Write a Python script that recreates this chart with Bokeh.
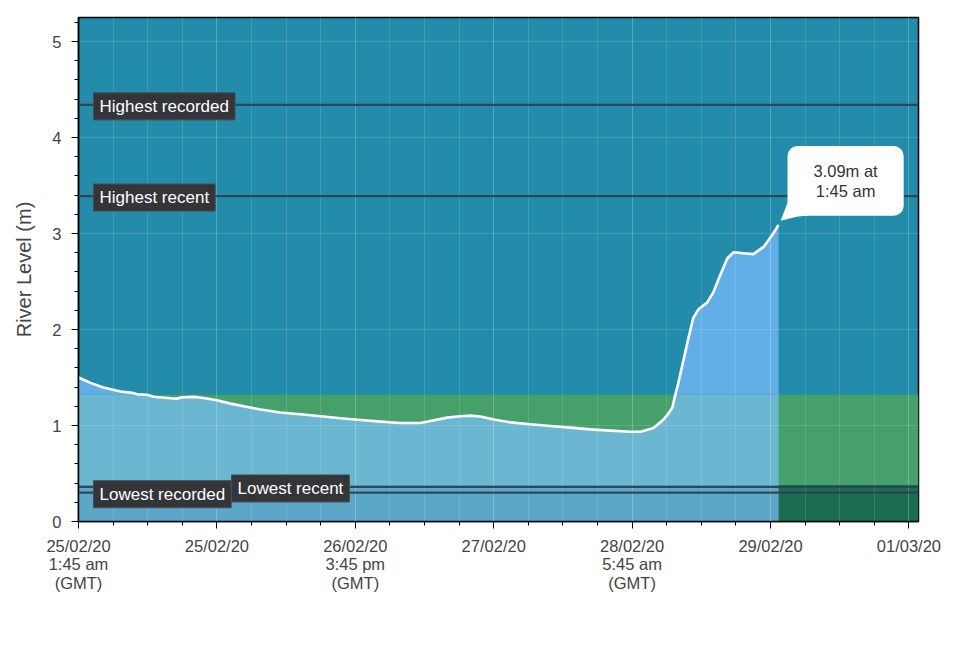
from bokeh.plotting import figure
from bokeh.models import (Range1d, SingleIntervalTicker, BoxAnnotation, Span, Label)
from bokeh.embed import file_html
from bokeh.resources import INLINE
import numpy as np

# River level readings: hours since the first reading, level in metres
hours = [0, 2.1, 4.3, 7.3, 9.3, 10.2, 11.9, 13.0, 16.0, 17.1, 18.0, 20.0, 21.7,
         24.0, 26.4, 29.3, 31.6, 33.3, 35.0, 38.5, 42.0, 45.4, 48.9, 52.4, 55.8,
         59.3, 61.0, 63.9, 66.2, 68.0, 69.7, 72.0, 74.9, 78.4, 81.8, 85.3, 88.8,
         92.3, 95.7, 97.5, 99.7, 101.4, 102.3, 103.0, 103.4, 104.0, 104.9, 105.8,
         106.6, 107.5, 109.0, 110.1, 111.3, 112.5, 113.6, 115.3, 117.0, 118.8,
         120.3, 121.4]
level = [1.50, 1.444, 1.395, 1.354, 1.34, 1.326, 1.32, 1.30, 1.284, 1.28, 1.294,
         1.298, 1.287, 1.263, 1.228, 1.193, 1.166, 1.151, 1.135, 1.117, 1.096,
         1.075, 1.058, 1.04, 1.026, 1.026, 1.047, 1.082, 1.096, 1.103, 1.093,
         1.062, 1.033, 1.013, 0.995, 0.978, 0.96, 0.947, 0.935, 0.935, 0.975,
         1.06, 1.124, 1.19, 1.30, 1.44, 1.68, 1.92, 2.12, 2.21, 2.28, 2.39, 2.57,
         2.74, 2.805, 2.795, 2.785, 2.86, 2.985, 3.09]
latest_time = "1:45 am"

# Typical range and reference levels (m)
typical_low = 0.38
typical_high = 1.32
highest_recorded = 4.34
highest_recent = 3.39
lowest_recorded = 0.30
lowest_recent = 0.36

# Axis ticks
tick_hours = [0, 24, 48, 72, 96, 120, 144]
tick_labels = ["25/02/20\n1:45 am\n(GMT)", "25/02/20", "26/02/20\n3:45 pm\n(GMT)",
               "27/02/20", "28/02/20\n5:45 am\n(GMT)", "29/02/20", "01/03/20"]

X_END = 145.66
Y_END = 5.25
FRAME_W, FRAME_H = 840, 504

FONT = "Liberation Sans"
TEAL = "#228CAA"
GREEN = "#46A069"
DARK_GREEN = "#1B6D52"
FILL_HIGH = "#62AFE7"
FILL_MID = "#6BB6D1"
FILL_LOW = "#5CA6C8"
LINE_DARK = "#2B4550"
BOX_DARK = "#333538"

p = figure(frame_width=FRAME_W, frame_height=FRAME_H,
           x_range=Range1d(0, X_END), y_range=Range1d(0, Y_END),
           output_backend="svg", toolbar_location=None,
           min_border_left=78, min_border_right=42,
           min_border_top=17, min_border_bottom=139)
p.background_fill_color = TEAL
p.border_fill_color = "white"
p.outline_line_color = "black"
p.outline_line_width = 1.5

# Bands: typical range and below it
p.add_layout(BoxAnnotation(bottom=typical_low, top=typical_high, fill_color=GREEN,
                           fill_alpha=1, line_color=None, level="underlay"))
p.add_layout(BoxAnnotation(bottom=0, top=typical_low, fill_color=DARK_GREEN,
                           fill_alpha=1, line_color=None, level="underlay"))


def with_crossings(xs, ys, h):
    """Insert the points where the series crosses the level h."""
    ox, oy = [xs[0]], [ys[0]]
    for i in range(1, len(xs)):
        y0, y1 = ys[i - 1], ys[i]
        if (y0 - h) * (y1 - h) < 0:
            t = (h - y0) / (y1 - y0)
            ox.append(xs[i - 1] + t * (xs[i] - xs[i - 1]))
            oy.append(h)
        ox.append(xs[i])
        oy.append(ys[i])
    return ox, oy


fx, fy = with_crossings(hours, level, typical_high)
fx, fy = with_crossings(fx, fy, typical_low)
fx = np.array(fx)
fy = np.array(fy)

# Area under the river level, shaded per band
p.varea(x=fx, y1=typical_high, y2=np.maximum(fy, typical_high), fill_color=FILL_HIGH)
p.varea(x=fx, y1=typical_low, y2=np.clip(fy, typical_low, typical_high), fill_color=FILL_MID)
p.varea(x=fx, y1=0, y2=np.minimum(fy, typical_low), fill_color=FILL_LOW)

p.line(hours, level, line_color="white", line_width=2.6, line_join="round")

# Reference level lines
for lv in [highest_recorded, highest_recent, lowest_recorded, lowest_recent]:
    p.add_layout(Span(location=lv, dimension="width", line_color=LINE_DARK,
                      line_width=2.2, line_alpha=0.95))

# Reference level labels
for text, lv, off in [("Highest recorded", highest_recorded, 15),
                      ("Highest recent", highest_recent, 15),
                      ("Lowest recorded", lowest_recorded, 15),
                      ("Lowest recent", lowest_recent, 153)]:
    p.add_layout(Label(x=hours[0], y=lv, x_offset=off, y_offset=-1.5, text=text,
                       text_align="left", text_baseline="middle",
                       text_font=FONT, text_font_size="17px", text_color="white",
                       background_fill_color=BOX_DARK, background_fill_alpha=1,
                       border_line_color="#4a4a4a", border_line_width=1,
                       padding=(6, 4)))

# Callout for the latest reading
kx = X_END / FRAME_W
ky = Y_END / FRAME_H
lx, ly = hours[-1], level[-1]
tail = [(2, 4), (12, 30), (34, 26), (34, 10), (18, 8)]
tail_r = p.patch([lx + dx * kx for dx, dy in tail], [ly + dy * ky for dx, dy in tail],
                 fill_color="white", line_color=None)
tail_r.level = "overlay"
p.add_layout(Label(x=lx, y=ly, x_offset=67, y_offset=44,
                   text=f"{ly:.2f}m at\n{latest_time}",
                   text_align="center", text_baseline="middle",
                   text_font=FONT, text_font_size="16.5px", text_color="#333333",
                   text_line_height=1.1,
                   background_fill_color="white", background_fill_alpha=1,
                   border_line_color=None, border_radius=10, padding=(26, 16)))

# Axes
p.xaxis.ticker = SingleIntervalTicker(interval=24, num_minor_ticks=4)
p.yaxis.ticker = SingleIntervalTicker(interval=1, num_minor_ticks=5)
p.xaxis.major_label_overrides = dict(zip(tick_hours, tick_labels))
for ax in (p.xaxis[0], p.yaxis[0]):
    ax.axis_line_color = "black"
    ax.axis_line_width = 1.5
    ax.major_tick_line_color = "black"
    ax.minor_tick_line_color = "black"
    ax.major_tick_out = 7
    ax.major_tick_in = 0
    ax.minor_tick_out = 4
    ax.minor_tick_in = 0
    ax.major_label_text_font = FONT
    ax.major_label_text_font_size = "16.5px"
    ax.major_label_text_color = "#444444"
p.xaxis.major_label_text_line_height = 1.05
p.xaxis.major_label_standoff = 8
p.yaxis.major_label_standoff = 10
p.yaxis.axis_label = "River Level (m)"
p.yaxis.axis_label_text_font = FONT
p.yaxis.axis_label_text_font_size = "20px"
p.yaxis.axis_label_text_font_style = "normal"
p.yaxis.axis_label_text_color = "#444444"
p.yaxis.axis_label_standoff = 14

# Grid over the shaded bands
p.xgrid.grid_line_color = "white"
p.xgrid.grid_line_alpha = 0.13
p.xgrid.minor_grid_line_color = "white"
p.xgrid.minor_grid_line_alpha = 0.13
p.ygrid.grid_line_color = "white"
p.ygrid.grid_line_alpha = 0.13
p.xgrid.level = "guide"
p.ygrid.level = "guide"

open("out.html", "w").write(file_html(p, INLINE))
